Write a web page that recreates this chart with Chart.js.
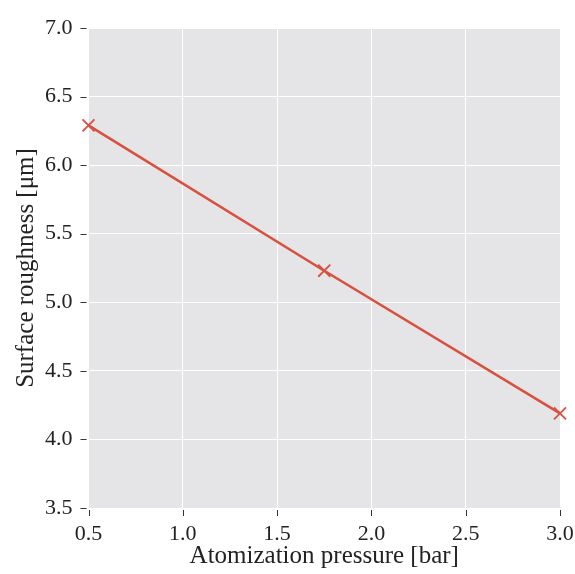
<!DOCTYPE html>
<html>
<head>
<meta charset="utf-8">
<script src="https://cdn.jsdelivr.net/npm/chart.js@4"></script>
<style>
  html, body { margin: 0; padding: 0; background: #ffffff; }
  #wrap { width: 575px; height: 574px; }
</style>
</head>
<body>
<div id="wrap"><canvas id="roughnessChart"></canvas></div>
<script>
// data
const pressure = [0.5, 1.75, 3.0];
const roughness = [6.29, 5.23, 4.19];
const xTicks = [0.5, 1.0, 1.5, 2.0, 2.5, 3.0];
const yTicks = [3.5, 4.0, 4.5, 5.0, 5.5, 6.0, 6.5, 7.0];

const FONT = "'Liberation Serif', 'Times New Roman', Times, serif";

// grey panel behind the plot + little dark tick marks outside it
const panelPlugin = {
  id: "panel",
  beforeDraw(chart) {
    const { ctx, chartArea: a } = chart;
    ctx.save();
    ctx.fillStyle = "#e5e5e8";
    ctx.fillRect(a.left, a.top, a.right - a.left, a.bottom - a.top);
    ctx.restore();
  },
  afterDraw(chart) {
    const { ctx, chartArea: a, scales } = chart;
    ctx.save();
    ctx.strokeStyle = "#333333";
    ctx.lineWidth = 1;
    ctx.beginPath();
    yTicks.forEach((v) => {
      const y = Math.round(scales.y.getPixelForValue(v)) + 0.5;
      ctx.moveTo(a.left - 8, y);
      ctx.lineTo(a.left - 2, y);
    });
    xTicks.forEach((v) => {
      const x = Math.round(scales.x.getPixelForValue(v)) + 0.5;
      ctx.moveTo(x, a.bottom + 2);
      ctx.lineTo(x, a.bottom + 8);
    });
    ctx.stroke();
    ctx.restore();
  },
};

new Chart(document.getElementById("roughnessChart"), {
  type: "scatter",
  data: {
    datasets: [
      {
        data: pressure.map((p, i) => ({ x: p, y: roughness[i] })),
        showLine: true,
        borderColor: "#d9503f",
        backgroundColor: "#d9503f",
        borderWidth: 2.6,
        pointStyle: "crossRot",
        pointRadius: 8.5,
        pointBorderWidth: 1.8,
        clip: false,
      },
    ],
  },
  options: {
    responsive: true,
    maintainAspectRatio: false,
    animation: false,
    layout: { padding: { left: 0, top: 28, right: 15, bottom: 0 } },
    plugins: {
      legend: { display: false },
      tooltip: { enabled: false },
    },
    scales: {
      x: {
        type: "linear",
        min: 0.5,
        max: 3.0,
        afterBuildTicks: (s) => { s.ticks = xTicks.map((v) => ({ value: v })); },
        afterFit: (s) => {
          s.height = 66;
          s.paddingLeft = 0;
          s.paddingRight = 0;
        },
        border: { display: false },
        grid: { color: "#ffffff", lineWidth: 1, drawTicks: false },
        ticks: {
          color: "#222222",
          font: { family: FONT, size: 22 },
          padding: 13,
          callback: (v) => v.toFixed(1),
        },
        title: {
          display: true,
          text: "Atomization pressure [bar]",
          color: "#222222",
          font: { family: FONT, size: 25 },
          padding: { top: 0, bottom: 3 },
        },
      },
      y: {
        type: "linear",
        min: 3.5,
        max: 7.0,
        afterBuildTicks: (s) => { s.ticks = yTicks.map((v) => ({ value: v })); },
        afterFit: (s) => {
          s.width = 88.5;
          s.paddingTop = 0;
          s.paddingBottom = 0;
        },
        border: { display: false },
        grid: { color: "#ffffff", lineWidth: 1, drawTicks: false },
        ticks: {
          color: "#222222",
          font: { family: FONT, size: 22 },
          padding: 16,
          callback: (v) => v.toFixed(1),
        },
        title: {
          display: true,
          text: "Surface roughness [μm]",
          color: "#222222",
          font: { family: FONT, size: 25 },
          padding: { top: 11, bottom: 0 },
        },
      },
    },
  },
  plugins: [panelPlugin],
});
</script>
</body>
</html>
